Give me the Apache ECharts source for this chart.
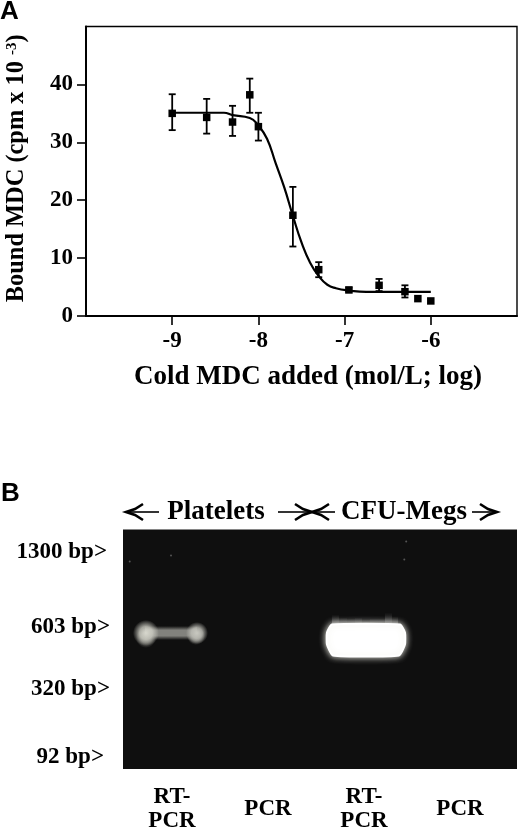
<!DOCTYPE html>
<html><head><meta charset="utf-8">
<style>html,body{margin:0;padding:0;background:#fff}#c{width:520px;height:828px}</style>
<script src="https://cdn.jsdelivr.net/npm/echarts@6/dist/echarts.min.js"></script>
</head><body><div id="c"></div>
<script>
// Panel A: binding data
const doseLog   = [-9, -8.6, -8.3, -8.1, -8, -7.6, -7.3, -6.95, -6.6, -6.3, -6.15, -6];
const boundMDC  = [35, 34.3, 33.5, 38.2, 32.7, 17.4, 8, 4.5, 5.3, 4.2, 3, 2.6];
const errLow    = [32.1, 31.5, 31.1, 35.1, 30.3, 12, 6.7, 4.2, 4.3, 3.2, null, null];
const errHigh   = [38.3, 37.5, 36.3, 41, 35.1, 22.3, 9.3, 4.9, 6.4, 5.3, null, null];
const curveX    = [-9, -8.4, -8.3, -8.1, -8, -7.9, -7.8, -7.7, -7.6, -7.5, -7.4, -7.3, -7.2, -7.1, -6.95, -6.75, -6];
const curveY    = [35.1, 35.1, 34.7, 34.2, 32.9, 30.6, 26.4, 22.2, 17.3, 12.7, 9.2, 6.9, 5.4, 4.8, 4.4, 4.15, 4.15];
const xTicks    = [-9, -8, -7, -6];
const yTicks    = [0, 10, 20, 30, 40];
// Panel B: gel
const laneIds    = [1, 2, 3, 4];
const laneLabels = ['RT-\nPCR', 'PCR', 'RT-\nPCR', 'PCR'];
const bpLabels   = ['1300 bp>', '603 bp>', '320 bp>', '92 bp>'];
const bpMigration= [22.5, 97.5, 159.5, 227.5];
const bandLanes     = [1, 3];
const bandMigration = [103.5, 110];
const bandIntensity = [0.55, 1];
const speckLane = [0.56, 0.99, 3.44, 3.42];
const speckMigration = [32, 26, 12, 30];
const groupLabels = ['Platelets', 'CFU-Megs'];

const serif = '"Liberation Serif","Times New Roman",serif';
const chart = echarts.init(document.getElementById('c'), null, {renderer:'canvas'});

function arrow(x1, x2, y){
  const d = x2 > x1 ? 1 : -1;
  return [
    {type:'line', shape:{x1:x1, y1:y, x2:x2-d*3, y2:y}, style:{stroke:'#000', lineWidth:1.6}},
    {type:'polyline', shape:{points:[[x2-d*17,y-8],[x2-d*9,y-3],[x2,y],[x2-d*9,y+3],[x2-d*17,y+8]]}, style:{stroke:'#000', fill:null, lineWidth:2.6}}
  ];
}
const letterFont = 'bold 26px "Liberation Sans",Arial,sans-serif';
const elements = [
  {type:'text', x:0, y:-1, style:{text:'A', font:letterFont, fill:'#000'}},
  {type:'text', x:1, y:481, style:{text:'B', font:letterFont, fill:'#000'}},
  {type:'text', x:216, y:512, style:{text:groupLabels[0], font:'bold 27px '+serif, fill:'#000', align:'center', verticalAlign:'middle'}},
  {type:'text', x:404, y:512, style:{text:groupLabels[1], font:'bold 27px '+serif, fill:'#000', align:'center', verticalAlign:'middle'}},
  ...arrow(159,126,512), ...arrow(278,312,512), ...arrow(335,312,512), ...arrow(472,497,512)
];

function renderErr(params, api){
  const x = api.value(0), lo = api.value(1), hi = api.value(2);
  const a = api.coord([x, lo]), b = api.coord([x, hi]);
  const cap = 3.5, s = {stroke:'#000', lineWidth:1.8};
  return {type:'group', children:[
    {type:'line', shape:{x1:a[0],y1:a[1],x2:b[0],y2:b[1]}, style:s},
    {type:'line', shape:{x1:a[0]-cap,y1:a[1],x2:a[0]+cap,y2:a[1]}, style:s},
    {type:'line', shape:{x1:b[0]-cap,y1:b[1],x2:b[0]+cap,y2:b[1]}, style:s}
  ]};
}
function glow(cx, cy, r, col){
  return {type:'circle', shape:{cx, cy, r},
    style:{fill:new echarts.graphic.RadialGradient(0.5,0.5,0.5,[
      {offset:0,color:`rgba(${col},1)`},{offset:0.5,color:`rgba(${col},0.75)`},{offset:1,color:`rgba(${col},0)`}])}};
}
function renderBand(params, api){
  const c = api.coord([api.value(0), api.value(1)]);
  const v = api.value(2);
  if (v < 0.9) {
    const cx = c[0] - 1, cy = c[1];
    return {type:'group', children:[
      {type:'rect', shape:{x:cx-26, y:cy-7, width:52, height:14},
        style:{fill:new echarts.graphic.LinearGradient(0,0,0,1,[
          {offset:0,color:'rgba(125,125,120,0)'},{offset:0.3,color:'rgba(130,130,125,1)'},{offset:0.7,color:'rgba(130,130,125,1)'},{offset:1,color:'rgba(125,125,120,0)'}])}},
      glow(cx-25,cy+5,10,'110,110,105'),
      glow(cx-25,cy,13,'215,215,205'),
      glow(cx+25,cy+3,9,'125,125,120'),
      glow(cx+26,cy,11,'200,200,192')
    ]};
  }
  const cx = c[0] + 2, cy = c[1];
  const fuzz = (dx,h,w)=>({type:'rect', shape:{x:cx+dx, y:cy-16-h, width:w, height:h+3},
    style:{fill:new echarts.graphic.LinearGradient(0,0,0,1,[{offset:0,color:'rgba(90,90,90,0)'},{offset:1,color:'rgba(150,150,150,0.9)'}])}});
  return {type:'group', children:[
    fuzz(-34,9,7), fuzz(-27,6,8), fuzz(-19,5,8), fuzz(-11,6,7), fuzz(-4,4,8), fuzz(4,5,9), fuzz(13,5,6), fuzz(19,11,7), fuzz(26,7,6),
    {type:'polygon', shape:{points:[[cx-34,cy-15],[cx+34,cy-15],[cx+39,cy-7],[cx+39,cy+5],[cx+33,cy+16],[cx-33,cy+16],[cx-39,cy+5],[cx-39,cy-7]], smooth:0.15},
      style:{fill:'#fff', stroke:'#fff', lineWidth:2, shadowBlur:6, shadowColor:'rgba(240,240,232,0.95)'}}
  ]};
}
const lbl = {fontFamily:serif, fontWeight:'bold', color:'#000', fontSize:23};
const option = {
  animation:false,
  backgroundColor:'#fff',
  textStyle:{fontFamily:serif, fontWeight:'bold', color:'#000'},
  graphic:{elements},
  grid:[
    {left:86, top:26.5, width:431, height:289.5, outerBoundsMode:'none', show:true, borderColor:'#000', borderWidth:1.4, backgroundColor:'#fff'},
    {left:123, top:529.5, width:394, height:239.5, outerBoundsMode:'none', show:true, borderWidth:0, backgroundColor:'#0f0f0f'}
  ],
  xAxis:[
    {gridIndex:0, type:'value', min:-10, max:-5, name:'Cold MDC added (mol/L; log)', nameLocation:'middle', nameGap:48,
     nameTextStyle:{fontFamily:serif, fontWeight:'bold', fontSize:27, color:'#000', padding:[0,0,0,13]},
     splitLine:{show:false}, axisLine:{lineStyle:{color:'#000', width:2}},
     axisTick:{length:9, inside:false, lineStyle:{color:'#000', width:1.6}, customValues:xTicks},
     axisLabel:{...lbl, customValues:xTicks, margin:14, showMinLabel:true, showMaxLabel:true}},
    {gridIndex:1, type:'value', min:0.49, max:4.594, splitLine:{show:false}, axisLine:{show:false}, axisTick:{show:false},
     axisLabel:{...lbl, customValues:laneIds, lineHeight:24, margin:40, verticalAlign:'middle',
       formatter:(v)=>laneLabels[laneIds.indexOf(v)]}}
  ],
  yAxis:[
    {gridIndex:0, type:'value', min:0, max:50, name:'{a|Bound MDC (cpm x 10 }{b|-3}{a|)}', nameLocation:'middle', nameGap:57,
     nameTextStyle:{padding:[0,0,0,6], rich:{a:{fontSize:24.4, fontFamily:serif, fontWeight:'bold', color:'#000'}, b:{fontSize:15, fontFamily:serif, fontWeight:'bold', color:'#000', verticalAlign:'top'}}},
     splitLine:{show:false}, axisLine:{lineStyle:{color:'#000', width:2}},
     axisTick:{length:9, lineStyle:{color:'#000', width:1.6}, customValues:yTicks},
     axisLabel:{...lbl, customValues:yTicks, margin:13}},
    {gridIndex:1, type:'value', min:0, max:239.5, inverse:true, splitLine:{show:false}, axisLine:{show:false}, axisTick:{show:false},
     axisLabel:{...lbl, customValues:bpMigration, margin:13,
       formatter:(v)=>{const i=bpMigration.indexOf(v); return '{r'+i+'|'+bpLabels[i]+'}';},
       rich:{r0:{...lbl,padding:[0,3,0,0]}, r1:{...lbl}, r2:{...lbl}, r3:{...lbl,padding:[0,6,0,0]}}}}
  ],
  series:[
    {type:'custom', xAxisIndex:0, yAxisIndex:0, renderItem:renderErr, silent:true,
     encode:{x:0,y:[1,2]},
     data:doseLog.map((x,i)=>[x,errLow[i],errHigh[i]]).filter(d=>d[1]!==null)},
    {type:'line', xAxisIndex:0, yAxisIndex:0, smooth:0.5, showSymbol:false, symbol:'none', lineStyle:{color:'#000', width:2.2}, silent:true,
     data:curveX.map((x,i)=>[x,curveY[i]])},
    {type:'scatter', xAxisIndex:0, yAxisIndex:0, symbol:'rect', symbolSize:7.5, itemStyle:{color:'#000', opacity:1}, silent:true,
     data:doseLog.map((x,i)=>[x,boundMDC[i]])},
    {type:'custom', xAxisIndex:1, yAxisIndex:1, renderItem:renderBand, silent:true, clip:true,
     encode:{x:0,y:1},
     data:bandLanes.map((l,i)=>[l,bandMigration[i],bandIntensity[i]])},
    {type:'scatter', xAxisIndex:1, yAxisIndex:1, symbol:'circle', symbolSize:2, itemStyle:{color:'#555', opacity:1}, silent:true,
     data:speckLane.map((l,i)=>[l,speckMigration[i]])}
  ]
};
chart.setOption(option);
</script></body></html>
